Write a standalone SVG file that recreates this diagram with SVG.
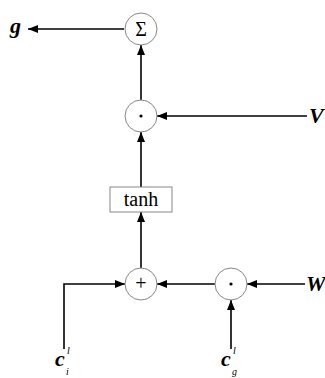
<svg xmlns="http://www.w3.org/2000/svg" width="325" height="378" viewBox="0 0 325 378">
<defs>
<marker id="ah" viewBox="0 0 10 8" refX="10" refY="4" markerWidth="10" markerHeight="8" markerUnits="userSpaceOnUse" orient="auto">
<path d="M0,0 L10,4 L0,8 Z" fill="#000"/>
</marker>
<style>
.op{fill:#fff;stroke:#888;stroke-width:1}
.ln{fill:none;stroke:#000;stroke-width:1.6;marker-end:url(#ah)}
.var{font-family:"Liberation Serif",serif;font-weight:bold;font-style:italic;font-size:22px;fill:#000}
.sm{font-family:"Liberation Serif",serif;font-style:italic;font-size:10px;fill:#000}
.sym{font-family:"Liberation Serif",serif;font-size:20px;fill:#000;text-anchor:middle}
</style>
</defs>
<rect width="325" height="378" fill="#fff"/>
<g id="connectors">
<line class="ln" x1="124" y1="29" x2="28" y2="29"/>
<line class="ln" x1="141" y1="100" x2="141" y2="45"/>
<line class="ln" x1="307" y1="116" x2="157" y2="116"/>
<line class="ln" x1="141" y1="187" x2="141" y2="132"/>
<line class="ln" x1="141" y1="268" x2="141" y2="212"/>
<polyline class="ln" points="64,349 64,284 125,284"/>
<line class="ln" x1="215" y1="284" x2="157" y2="284"/>
<line class="ln" x1="305" y1="284" x2="247" y2="284"/>
<line class="ln" x1="231" y1="349" x2="231" y2="300"/>
</g>
<g id="sum"><circle class="op" cx="141" cy="29" r="16"/><text class="sym" x="141" y="36">Σ</text></g>
<g id="dot1"><circle class="op" cx="141" cy="116" r="16"/><circle cx="141" cy="116" r="1.6" fill="#000"/></g>
<g id="tanh"><rect x="110" y="187" width="62" height="25" fill="#fff" stroke="#888" stroke-width="1"/><text class="sym" x="141" y="206" font-size="18">tanh</text></g>
<g id="plus"><circle class="op" cx="141" cy="284" r="16"/><text class="sym" x="141" y="290" font-size="17">+</text></g>
<g id="dot2"><circle class="op" cx="231" cy="284" r="16"/><circle cx="231" cy="284" r="1.6" fill="#000"/></g>
<g id="g"><text class="var" x="10" y="33">g</text></g>
<g id="V"><text class="var" x="309" y="123">V</text></g>
<g id="W"><text class="var" x="306" y="291">W</text></g>
<g id="ci"><text class="var" x="55" y="366">c</text><text class="sm" x="67" y="354">l</text><text class="sm" x="66" y="375">i</text></g>
<g id="cg"><text class="var" x="221" y="366">c</text><text class="sm" x="233" y="354">l</text><text class="sm" x="232" y="375">g</text></g>
</svg>
